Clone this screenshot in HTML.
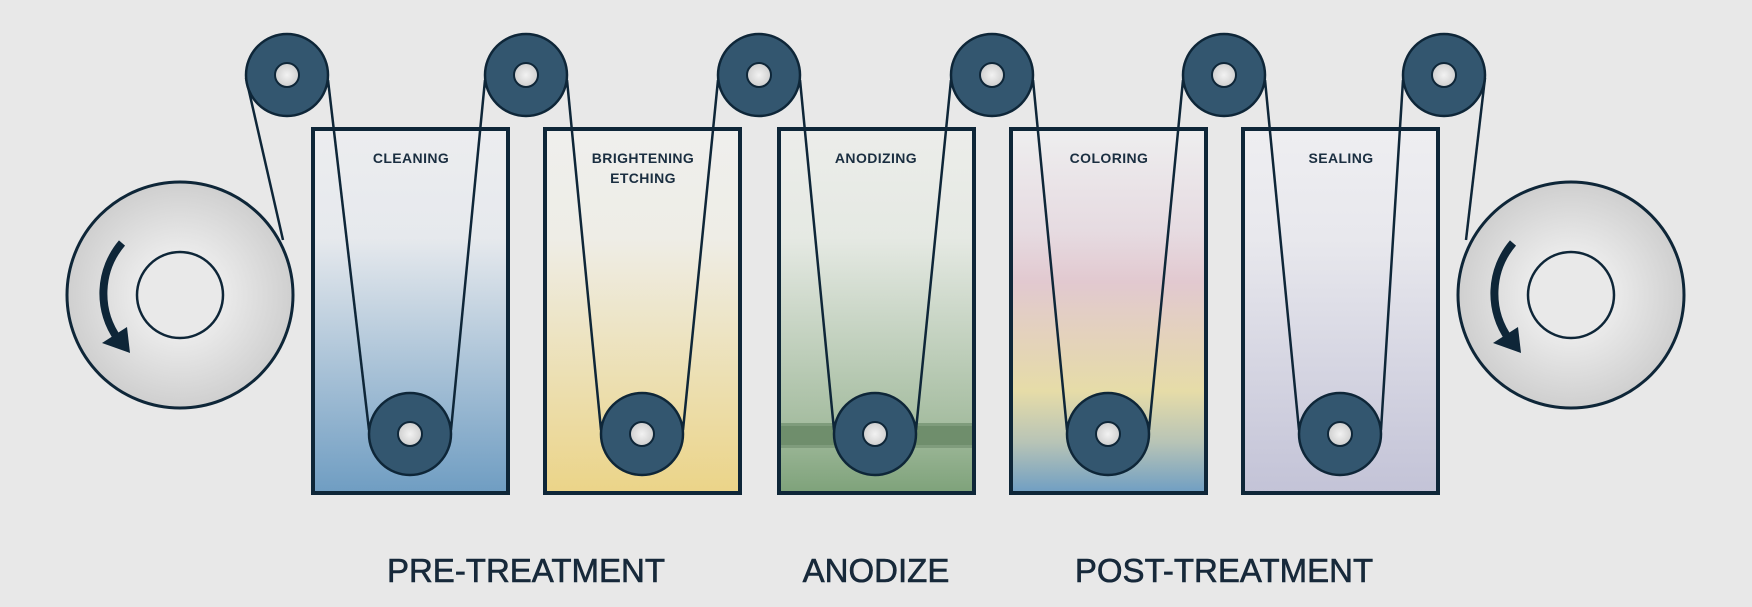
<!DOCTYPE html>
<html><head><meta charset="utf-8"><style>
html,body{margin:0;padding:0;background:#e8e8e8;}
svg{display:block}
</style></head><body>
<svg width="1752" height="607" viewBox="0 0 1752 607" xmlns="http://www.w3.org/2000/svg">
<defs>
<radialGradient id="reel" cx="50%" cy="50%" r="50%"><stop offset="0.35" stop-color="#ececec"/><stop offset="1" stop-color="#cfcfcf"/></radialGradient>
<radialGradient id="hub" cx="50%" cy="50%" r="50%"><stop offset="0" stop-color="#f2f2f2"/><stop offset="1" stop-color="#cfcfcf"/></radialGradient>
<linearGradient id="g1" x1="0" y1="0" x2="0" y2="1"><stop offset="0" stop-color="#ecedef"/><stop offset="0.3" stop-color="#e6e9ed"/><stop offset="1" stop-color="#6f9dc2"/></linearGradient>
<linearGradient id="g2" x1="0" y1="0" x2="0" y2="1"><stop offset="0" stop-color="#efefed"/><stop offset="0.3" stop-color="#eeede6"/><stop offset="1" stop-color="#ebd488"/></linearGradient>
<linearGradient id="g3" x1="0" y1="0" x2="0" y2="1"><stop offset="0" stop-color="#ecedea"/><stop offset="0.3" stop-color="#e5e9e3"/><stop offset="0.8" stop-color="#a7bea2"/><stop offset="1" stop-color="#7ea27a"/></linearGradient>
<linearGradient id="g4" x1="0" y1="0" x2="0" y2="1"><stop offset="0" stop-color="#eeeeef"/><stop offset="0.28" stop-color="#e6dbe1"/><stop offset="0.42" stop-color="#e2c9d0"/><stop offset="0.6" stop-color="#e4d4b8"/><stop offset="0.72" stop-color="#e6dca8"/><stop offset="0.86" stop-color="#b8c4b6"/><stop offset="1" stop-color="#6f9ec3"/></linearGradient>
<linearGradient id="g5" x1="0" y1="0" x2="0" y2="1"><stop offset="0" stop-color="#eeeef1"/><stop offset="0.3" stop-color="#e8e8ed"/><stop offset="1" stop-color="#c3c3d7"/></linearGradient>
</defs>
<rect width="1752" height="607" fill="#e8e8e8"/>

<g stroke="#0e2638" stroke-width="4">
<rect x="313" y="129" width="195" height="364" fill="url(#g1)"/>
<rect x="545" y="129" width="195" height="364" fill="url(#g2)"/>
<rect x="779" y="129" width="195" height="364" fill="url(#g3)"/>
<rect x="1011" y="129" width="195" height="364" fill="url(#g4)"/>
<rect x="1243" y="129" width="195" height="364" fill="url(#g5)"/>
</g>
<rect x="781" y="423" width="191" height="25" fill="#6f8e6c"/>
<rect x="781" y="423" width="191" height="3" fill="#7f9c7c"/>
<rect x="781" y="445" width="191" height="3" fill="#7f9c7c"/>

<g stroke="#0e2638" stroke-width="3">
<circle cx="180" cy="295" r="113" fill="url(#reel)"/>
<circle cx="180" cy="295" r="43" fill="#e9e9e9" stroke-width="2.5"/>
<circle cx="1571" cy="295" r="113" fill="url(#reel)"/>
<circle cx="1571" cy="295" r="43" fill="#e9e9e9" stroke-width="2.5"/>
</g>
<g fill="#0e2638">
<path d="M122 243 A78 78 0 0 0 118 339" fill="none" stroke="#0e2638" stroke-width="8"/>
<polygon points="102,343 127,327 130,353"/>
<path d="M1513 243 A78 78 0 0 0 1509 339" fill="none" stroke="#0e2638" stroke-width="8"/>
<polygon points="1493,343 1518,327 1521,353"/>
</g>

<g stroke="#0e2638" stroke-width="2.5" fill="none">
<line x1="283" y1="240" x2="246" y2="78"/>
<line x1="328" y1="80" x2="369" y2="430"/>
<line x1="451" y1="430" x2="485" y2="80"/>
<line x1="567" y1="80" x2="601" y2="430"/>
<line x1="683" y1="430" x2="718" y2="80"/>
<line x1="800" y1="80" x2="834" y2="430"/>
<line x1="916" y1="430" x2="951" y2="80"/>
<line x1="1033" y1="80" x2="1067" y2="430"/>
<line x1="1149" y1="430" x2="1183" y2="80"/>
<line x1="1265" y1="80" x2="1299" y2="430"/>
<line x1="1381" y1="430" x2="1403" y2="80"/>
<line x1="1485" y1="78" x2="1466" y2="240"/>
</g>

<g stroke="#0e2638" stroke-width="2.5">
<g fill="#33566f">
<circle cx="287" cy="75" r="41"/><circle cx="526" cy="75" r="41"/><circle cx="759" cy="75" r="41"/>
<circle cx="992" cy="75" r="41"/><circle cx="1224" cy="75" r="41"/><circle cx="1444" cy="75" r="41"/>
<circle cx="410" cy="434" r="41"/><circle cx="642" cy="434" r="41"/><circle cx="875" cy="434" r="41"/>
<circle cx="1108" cy="434" r="41"/><circle cx="1340" cy="434" r="41"/>
</g>
<g fill="url(#hub)" stroke-width="2">
<circle cx="287" cy="75" r="12"/><circle cx="526" cy="75" r="12"/><circle cx="759" cy="75" r="12"/>
<circle cx="992" cy="75" r="12"/><circle cx="1224" cy="75" r="12"/><circle cx="1444" cy="75" r="12"/>
<circle cx="410" cy="434" r="12"/><circle cx="642" cy="434" r="12"/><circle cx="875" cy="434" r="12"/>
<circle cx="1108" cy="434" r="12"/><circle cx="1340" cy="434" r="12"/>
</g>
</g>

<g font-family="Liberation Sans, sans-serif" font-weight="bold" font-size="14" fill="#1a2e40" text-anchor="middle" letter-spacing="0.4">
<text x="411" y="163">CLEANING</text>
<text x="643" y="163">BRIGHTENING</text>
<text x="643" y="183">ETCHING</text>
<text x="876" y="163">ANODIZING</text>
<text x="1109" y="163">COLORING</text>
<text x="1341" y="163">SEALING</text>
</g>
<g font-family="Liberation Sans, sans-serif" font-size="33" fill="#17293a" stroke="#17293a" stroke-width="0.6" text-anchor="middle">
<text x="526" y="582">PRE-TREATMENT</text>
<text x="876" y="582">ANODIZE</text>
<text x="1224" y="582">POST-TREATMENT</text>
</g>
</svg>
</body></html>
